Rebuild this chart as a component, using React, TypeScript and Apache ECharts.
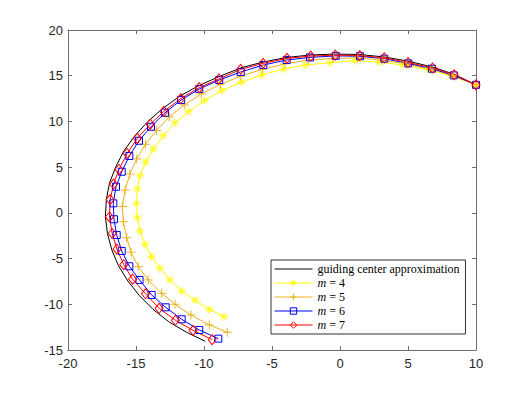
import React, { useEffect, useRef } from "react";
import * as echarts from "echarts";

const xTicks = { min: -20, max: 10, interval: 5 };
const yTicks = { min: -15, max: 20, interval: 5 };

const guidingCenter: number[][] = [
  [10, 14], [8.4, 15.15], [6.8, 15.95], [5.0, 16.6], [3.25, 17.05], [1.45, 17.32], [-0.35, 17.37],
  [-2.15, 17.27], [-3.9, 17.0], [-5.65, 16.5], [-7.3, 15.85], [-8.9, 14.9], [-10.4, 13.9],
  [-11.8, 12.75], [-13.05, 11.4], [-14.15, 9.95], [-15.1, 8.4], [-15.9, 6.75], [-16.5, 5.0],
  [-16.95, 3.25], [-17.18, 1.45], [-17.25, -0.4], [-17.1, -2.25], [-16.78, -4.05], [-16.28, -5.8],
  [-15.6, -7.45], [-14.75, -9.05], [-13.75, -10.55], [-12.6, -11.9], [-11.3, -13.05], [-9.9, -14.05],
];

const m4: number[][] = [
  [10, 14], [8.21, 14.97], [6.49, 15.63], [4.65, 16.17], [2.87, 16.5], [1.05, 16.64], [-0.74, 16.42],
  [-2.54, 16.17], [-4.17, 15.73], [-5.76, 15.08], [-7.28, 14.28], [-8.7, 13.36], [-9.98, 12.27],
  [-11.15, 11.06], [-12.13, 9.86], [-12.99, 8.44], [-13.73, 6.98], [-14.29, 5.56], [-14.71, 4.06],
  [-14.9, 2.61], [-14.98, 1.01], [-14.9, -0.53], [-14.71, -1.98], [-14.34, -3.44], [-13.85, -4.79],
  [-13.24, -6.06], [-12.5, -7.34], [-11.64, -8.55], [-10.66, -9.56], [-9.61, -10.55], [-8.53, -11.36],
];

const m5: number[][] = [
  [10, 14], [8.3, 15.0], [6.65, 15.72], [4.87, 16.28], [3.1, 16.7], [1.3, 16.95], [-0.5, 16.9],
  [-2.35, 16.7], [-4.05, 16.3], [-5.7, 15.7], [-7.3, 14.95], [-8.8, 14.05], [-10.2, 13.0],
  [-11.45, 11.8], [-12.55, 10.5], [-13.5, 9.0], [-14.3, 7.5], [-14.95, 5.9], [-15.45, 4.25],
  [-15.8, 2.5], [-16.0, 0.7], [-15.93, -0.97], [-15.68, -2.72], [-15.37, -4.31], [-14.83, -5.89],
  [-14.1, -7.34], [-13.11, -8.8], [-12.13, -10.0], [-10.96, -11.17], [-9.61, -12.26], [-8.29, -13.06],
];

const m6: number[][] = [
  [10, 14], [8.36, 15.04], [6.76, 15.77], [5.02, 16.35], [3.26, 16.86], [1.47, 17.13], [-0.32, 17.17],
  [-2.2, 17.0], [-3.92, 16.72], [-5.64, 16.17], [-7.3, 15.41], [-8.88, 14.53], [-10.35, 13.55],
  [-11.68, 12.34], [-12.87, 10.95], [-13.9, 9.42], [-14.78, 7.89], [-15.49, 6.22], [-16.05, 4.5],
  [-16.47, 2.86], [-16.67, 1.04], [-16.62, -0.7], [-16.42, -2.42], [-16.05, -4.17], [-15.49, -5.84],
  [-14.74, -7.34], [-13.85, -8.98], [-12.82, -10.33], [-11.64, -11.64], [-10.35, -12.81], [-8.95, -13.76],
];

const m7: number[][] = [
  [10, 14], [8.4, 15.1], [6.8, 15.85], [5.0, 16.45], [3.25, 16.95], [1.45, 17.2], [-0.35, 17.25],
  [-2.15, 17.15], [-3.9, 16.9], [-5.65, 16.35], [-7.3, 15.7], [-8.9, 14.65], [-10.35, 13.7],
  [-11.7, 12.5], [-12.95, 11.1], [-13.95, 9.7], [-14.9, 8.15], [-15.65, 6.5], [-16.25, 4.75],
  [-16.65, 3.15], [-16.9, 1.45], [-16.95, -0.45], [-16.75, -2.25], [-16.4, -3.97], [-15.9, -5.67],
  [-15.25, -7.25], [-14.3, -8.85], [-13.3, -10.44], [-12.1, -11.75], [-10.8, -12.85], [-9.4, -13.87],
];

const seriesNames = ["guiding center approximation", "m = 4", "m = 5", "m = 6", "m = 7"];
const seriesColors = ["#000000", "#ffff00", "#edb120", "#0000ff", "#ff0000"];

const AXIS_COLOR = "#6e6e6e";
const LABEL_COLOR = "#262626";
const ASTERISK = "path://M0,-10L0,10M-10,0L10,0M-7.07,-7.07L7.07,7.07M-7.07,7.07L7.07,-7.07";
const PLUS = "path://M0,-10L0,10M-10,0L10,0";

function axisCommon(show: boolean) {
  return {
    type: "value" as const,
    axisLine: { show: true, onZero: false, lineStyle: { color: AXIS_COLOR, width: 1 } },
    axisTick: { show: true, inside: true, length: 4, lineStyle: { color: AXIS_COLOR, width: 1 } },
    axisLabel: {
      show,
      color: LABEL_COLOR,
      fontSize: 13,
      fontFamily: "Liberation Sans",
    },
    splitLine: { show: false },
  };
}

export default function App() {
  const ref = useRef<HTMLDivElement>(null);
  useEffect(() => {
    if (!ref.current) return;
    const chart = echarts.init(ref.current, null, { renderer: "svg" });
    const mk = (
      name: string,
      data: number[][],
      color: string,
      symbol: string,
      size: number | number[],
      fill: string
    ) => ({
      name,
      type: "line",
      data,
      clip: false,
      symbol,
      showSymbol: symbol !== "none",
      symbolSize: size,
      lineStyle: { color, width: 1 },
      itemStyle: { color: fill, borderColor: color, borderWidth: 1 },
      emphasis: { disabled: true },
    });
    const legendData = seriesNames.map((name, i) => ({
      name,
      lineStyle: { color: seriesColors[i], width: 1 },
      itemStyle:
        i === 0
          ? { opacity: 0, borderWidth: 0 }
          : {
              color: i === 1 || i === 2 ? seriesColors[i] : "rgba(0,0,0,0)",
              borderColor: seriesColors[i],
              borderWidth: 1,
            },
    }));
    chart.setOption({
      animation: false,
      backgroundColor: "#fff",
      grid: { left: 68, top: 30, width: 408, height: 320, show: false },
      xAxis: [
        { ...axisCommon(true), ...xTicks, position: "bottom", axisLabel: { ...axisCommon(true).axisLabel, margin: 7 } },
        { ...axisCommon(false), ...xTicks, position: "top" },
      ],
      yAxis: [
        { ...axisCommon(true), ...yTicks, position: "left", axisLabel: { ...axisCommon(true).axisLabel, margin: 5 } },
        { ...axisCommon(false), ...yTicks, position: "right" },
      ],
      legend: {
        orient: "vertical",
        left: 271,
        top: 260,
        itemWidth: 38,
        itemHeight: 8,
        itemGap: 2,
        itemTextGap: 4,
        padding: [3, 6, 3, 3],
        borderColor: "#333",
        borderWidth: 1,
        backgroundColor: "#fff",
        data: legendData,
        formatter: (name: string) => (name.startsWith("m ") ? `{i|m}${name.slice(1)}` : name),
        textStyle: {
          fontFamily: "Liberation Serif",
          fontSize: 12,
          lineHeight: 12,
          color: "#000",
          rich: { i: { fontFamily: "Liberation Serif", fontStyle: "italic", fontSize: 12, lineHeight: 12, color: "#000" } },
        },
      },
      series: [
        mk(seriesNames[0], guidingCenter, seriesColors[0], "none", 0, "#000"),
        mk(seriesNames[1], m4, seriesColors[1], ASTERISK, 8, seriesColors[1]),
        mk(seriesNames[2], m5, seriesColors[2], PLUS, 9, seriesColors[2]),
        mk(seriesNames[3], m6, seriesColors[3], "rect", 7, "rgba(0,0,0,0)"),
        mk(seriesNames[4], m7, seriesColors[4], "diamond", [8, 10], "rgba(0,0,0,0)"),
      ],
    });
    return () => chart.dispose();
  }, []);
  return (
    <div
      ref={ref}
      style={{ position: "fixed", left: 0, top: 0, width: 525, height: 394, background: "#fff" }}
    />
  );
}
